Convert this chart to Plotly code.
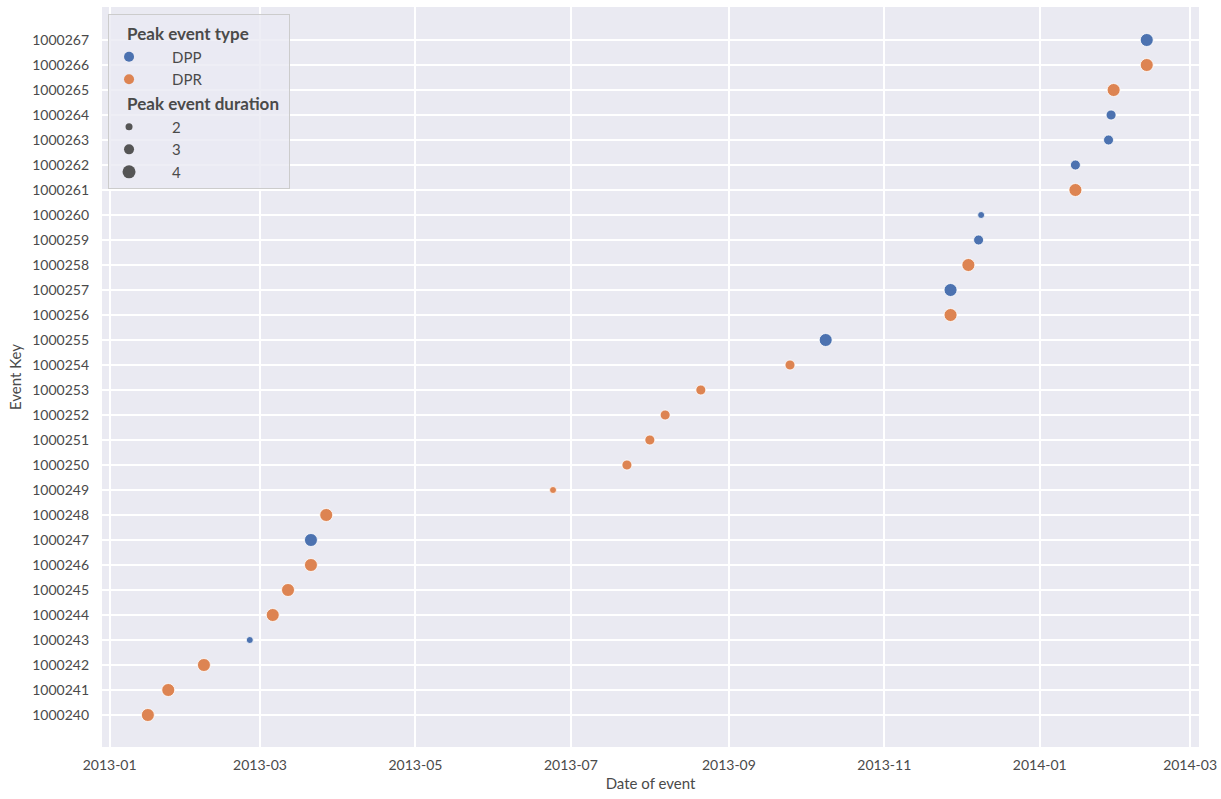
import plotly.graph_objects as go

event_keys = list(range(1000240, 1000268))
event_dates = [
    "2013-01-16", "2013-01-24", "2013-02-07", "2013-02-25", "2013-03-06",
    "2013-03-12", "2013-03-21", "2013-03-21", "2013-03-27", "2013-06-24",
    "2013-07-23", "2013-08-01", "2013-08-07", "2013-08-21", "2013-09-25",
    "2013-10-09", "2013-11-27", "2013-11-27", "2013-12-04", "2013-12-08",
    "2013-12-09", "2014-01-15", "2014-01-15", "2014-01-28", "2014-01-29",
    "2014-01-30", "2014-02-12", "2014-02-12",
]
event_types = [
    "DPR", "DPR", "DPR", "DPP", "DPR", "DPR", "DPR", "DPP", "DPR", "DPR",
    "DPR", "DPR", "DPR", "DPR", "DPR", "DPP", "DPR", "DPP", "DPR", "DPP",
    "DPP", "DPR", "DPP", "DPP", "DPP", "DPR", "DPR", "DPP",
]
event_durations = [
    4, 4, 4, 2, 4, 4, 4, 4, 4, 2,
    3, 3, 3, 3, 3, 4, 4, 4, 4, 3,
    2, 4, 3, 3, 3, 4, 4, 4,
]
type_names = ["DPP", "DPR"]
type_colors = {"DPP": "#4C72B0", "DPR": "#DD8452"}
duration_levels = [2, 3, 4]
size_px = {2: 7, 3: 10, 4: 13}

FONT = "Lato"
TEXT = "#4a4a4a"
NB = "\u00a0"
fig = go.Figure()

for t in type_names:
    xs = [d for d, tt in zip(event_dates, event_types) if tt == t]
    ys = [k for k, tt in zip(event_keys, event_types) if tt == t]
    ss = [size_px[s] for s, tt in zip(event_durations, event_types) if tt == t]
    fig.add_trace(go.Scatter(
        x=xs, y=ys, mode="markers", showlegend=False,
        marker=dict(color=type_colors[t], size=ss, opacity=1,
                    line=dict(color="white", width=0.8)),
        name=t,
    ))

for i, t in enumerate(type_names):
    fig.add_trace(go.Scatter(
        x=[None], y=[None], mode="markers", name=NB * 6 + t,
        legendgroup="type",
        legendgrouptitle=dict(text=NB * 3 + "<b>Peak event type</b>") if i == 0 else None,
        marker=dict(color=type_colors[t], size=10, opacity=1),
    ))
for i, d in enumerate(duration_levels):
    fig.add_trace(go.Scatter(
        x=[None], y=[None], mode="markers", name=NB * 6 + str(d),
        legendgroup="dur",
        legendgrouptitle=dict(text=NB * 3 + "<b>Peak event duration</b>") if i == 0 else None,
        marker=dict(color="#555555", size=size_px[d], opacity=1),
    ))

fig.update_layout(
    width=1221, height=799,
    margin=dict(l=102, r=22, t=7, b=52, autoexpand=False),
    paper_bgcolor="white",
    plot_bgcolor="#EAEAF2",
    font=dict(family=FONT, size=14, color=TEXT),
    legend=dict(
        x=0.0055, y=0.99, xanchor="left", yanchor="top",
        bgcolor="rgba(234,234,242,0.8)", bordercolor="#CCCCCC", borderwidth=1,
        font=dict(size=15, color=TEXT),
        grouptitlefont=dict(size=17, color=TEXT),
        tracegroupgap=0, itemsizing="trace",
    ),
    xaxis=dict(
        title=dict(text="Date of event", font=dict(size=15), standoff=6),
        type="date",
        range=["2012-12-29", "2014-03-04 12:00"],
        tickformat="%Y-%m", dtick="M2", tick0="2013-01-01",
        showgrid=True, gridcolor="white", gridwidth=1.5,
        zeroline=False, showline=False, ticks="", ticklabelstandoff=8,
    ),
    yaxis=dict(
        title=dict(text="Event Key", font=dict(size=15), standoff=6),
        range=[1000238.72, 1000268.32],
        tickmode="array", tickvals=event_keys, ticktext=[str(k) for k in event_keys],
        showgrid=True, gridcolor="white", gridwidth=1.5,
        zeroline=False, showline=False, ticks="", ticklabelstandoff=12,
    ),
)

fig.write_html(
    "out.html",
    config={"displayModeBar": False},
    post_script="document.body.style.margin='0';document.body.style.overflow='hidden';",
)
